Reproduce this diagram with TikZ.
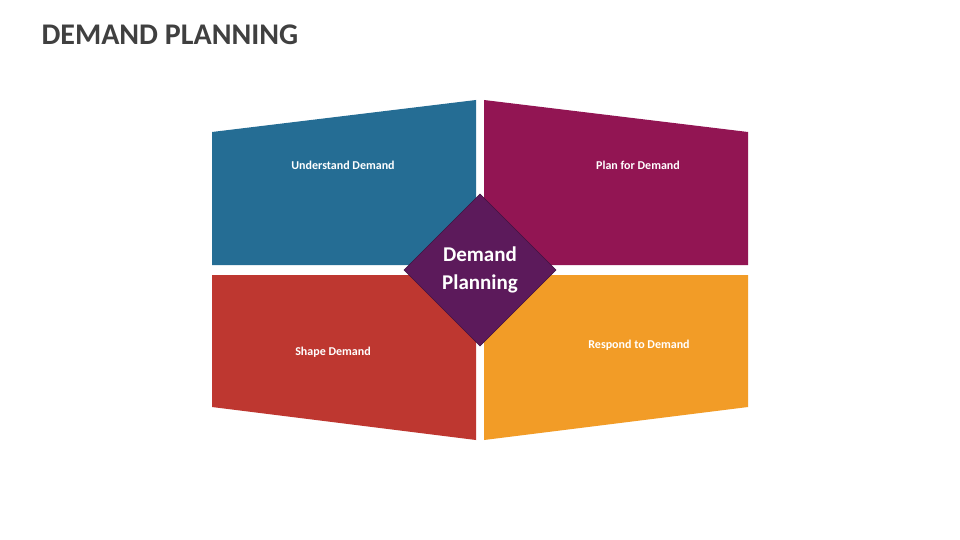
\documentclass[tikz,border=0pt]{standalone}
\usepackage{fontspec}
\setmainfont{Carlito}
\definecolor{cblue}{HTML}{256D94}
\definecolor{cmag}{HTML}{921553}
\definecolor{cred}{HTML}{BE3730}
\definecolor{corg}{HTML}{F29C27}
\definecolor{cdia}{HTML}{5C1A5B}
\definecolor{ctitle}{HTML}{404040}
\begin{document}
\begin{tikzpicture}[x=1pt,y=-1pt,
  lbl/.style={text=white,font=\bfseries\fontsize{12}{14}\selectfont}]
\useasboundingbox[fill=white] (0,0) rectangle (960,540);
\node[anchor=west,text=ctitle,font=\bfseries\fontsize{30}{34}\selectfont] (title) at (38,35) {DEMAND PLANNING};
\fill[cblue] (212,132) -- (476,100) -- (476,265) -- (212,265) -- cycle;
\fill[cmag] (484,100) -- (748,132) -- (748,265) -- (484,265) -- cycle;
\fill[cred] (212,275) -- (476,275) -- (476,440) -- (212,407) -- cycle;
\fill[corg] (484,275) -- (748,275) -- (748,407) -- (484,440) -- cycle;
\node[lbl] (ul) at (343,165) {Understand Demand};
\node[lbl] (ur) at (638,165) {Plan for Demand};
\node[lbl] (ll) at (333,352) {Shape Demand};
\node[lbl] (lr) at (639,345) {Respond to Demand};
\fill[cdia] (480,194) -- (556,270) -- (480,346) -- (404,270) -- cycle;
\draw[cdia!70!black,line width=0.6pt] (480,194) -- (556,270) -- (480,346) -- (404,270) -- cycle;
\node[text=white,font=\bfseries\fontsize{21}{28}\selectfont,align=center] (c) at (480,270) {Demand\\Planning};
\end{tikzpicture}
\end{document}
